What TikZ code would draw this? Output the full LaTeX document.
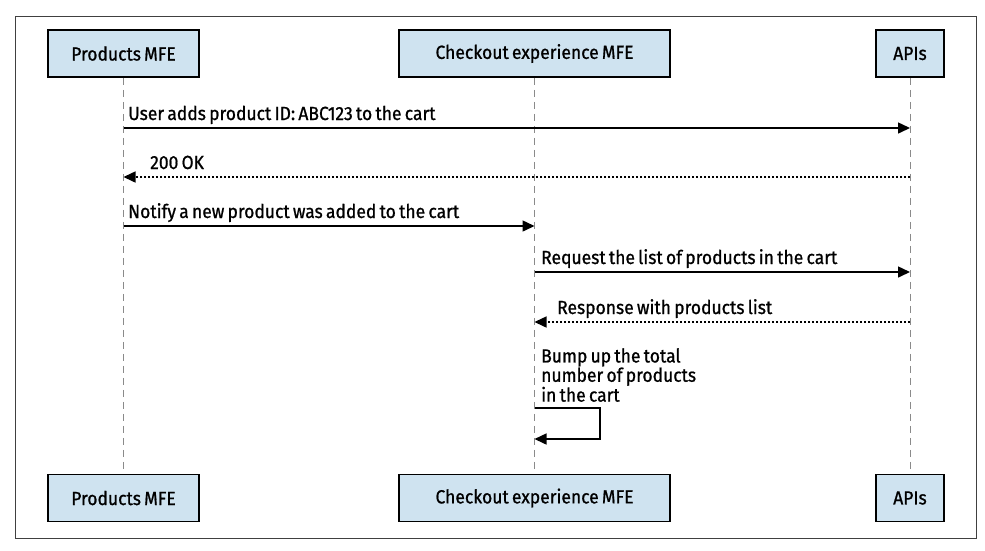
\documentclass[tikz,border=0pt]{standalone}
\usepackage{fontspec}
\setmainfont{Fira Sans}[FakeStretch=0.92, FakeBold=0.9, WordSpace=0.7]
\usetikzlibrary{arrows.meta}
\definecolor{boxfill}{HTML}{CFE3F0}
\definecolor{lifegray}{HTML}{8A8A8A}
\tikzset{
  actor/.style={draw=black, line width=1.6pt, fill=boxfill, minimum height=47pt, inner sep=0pt, font=\fontsize{19}{21}\selectfont},
  life/.style={draw=lifegray, line width=0.9pt, dash pattern=on 7pt off 5pt},
  msg/.style={line width=1.5pt, -{Triangle[length=12pt,width=11pt]}},
  reply/.style={line width=1.5pt, dash pattern=on 2pt off 2pt, -{Triangle[length=12pt,width=11pt]}},
  lbl/.style={font=\fontsize{19}{17.5}\selectfont, inner sep=0pt, anchor=base west, align=left},
}
\begin{document}
\begin{tikzpicture}[x=1pt,y=-1pt]
\useasboundingbox (0,0) rectangle (985,550);
\draw[draw=black!75, line width=0.8pt] (15,16) rectangle (976,538);
% actors
\node[actor, minimum width=151pt] (p1) at (123.5,53.5) {Products MFE};
\node[actor, minimum width=271pt] (c1) at (534.5,53.5) {Checkout experience MFE};
\node[actor, minimum width=68pt] (a1) at (910,53.5) {APIs};
\node[actor, minimum width=151pt] (p2) at (123.5,498) {Products MFE};
\node[actor, minimum width=271pt] (c2) at (534.5,498) {Checkout experience MFE};
\node[actor, minimum width=68pt] (a2) at (910,498) {APIs};
% lifelines
\draw[life] (p1.south) -- (p2.north);
\draw[life] (c1.south) -- (c2.north);
\draw[life] (a1.south) -- (a2.north);
% message anchor points
\coordinate (m1s) at (p1.south |- 0,128);
\coordinate (m1e) at (a1.south |- 0,128);
\coordinate (m2s) at (a1.south |- 0,177);
\coordinate (m2e) at (p1.south |- 0,177);
\coordinate (m3s) at (p1.south |- 0,226);
\coordinate (m3e) at (c1.south |- 0,226);
\coordinate (m4s) at (c1.south |- 0,272);
\coordinate (m4e) at (a1.south |- 0,272);
\coordinate (m5s) at (a1.south |- 0,322);
\coordinate (m5e) at (c1.south |- 0,322);
\coordinate (m6s) at (c1.south |- 0,408);
\coordinate (m6e) at (c1.south |- 0,439);
\coordinate (m6r) at (600,408);
% messages
\draw[msg] (m1s) -- (m1e);
\node[lbl] (t1) at (128,120) {User adds product ID: ABC123 to the cart};
\draw[reply] (m2s) -- (m2e);
\node[lbl] (t2) at (150,169) {200 OK};
\draw[msg] (m3s) -- (m3e);
\node[lbl] (t3) at (128,218) {Notify a new product was added to the cart};
\draw[msg] (m4s) -- (m4e);
\node[lbl] (t4) at (541,264) {Request the list of products in the cart};
\draw[reply] (m5s) -- (m5e);
\node[lbl] (t5) at (557,314) {Response with products list};
\node[lbl, anchor=north west] (t6) at (541,348) {Bump up the total\\number of products\\in the cart};
\draw[msg] (m6s) -- (m6r) |- (m6e);
\end{tikzpicture}
\end{document}
